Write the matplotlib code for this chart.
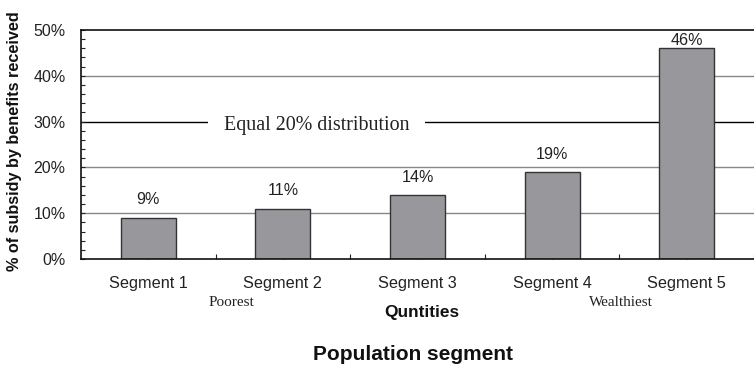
import numpy as np
import matplotlib.pyplot as plt
from matplotlib.ticker import MultipleLocator, FuncFormatter

segments = ['Segment 1', 'Segment 2', 'Segment 3', 'Segment 4', 'Segment 5']
shares = [9, 11, 14, 19, 46]
equal_line = 30
equal_text = 'Equal 20% distribution'

plt.rcParams['font.family'] = 'Liberation Sans'

fig = plt.figure(figsize=(7.54, 3.65), dpi=100)
ax = fig.add_axes([81 / 754, 1 - 259 / 365, 1 - 81 / 754, (259 - 30) / 365])

x = np.arange(len(segments))
ax.bar(x, shares, width=0.41, color='#98989c', edgecolor='#333333',
       linewidth=1.0, zorder=2)

# value labels, kept inside the frame for the tallest bar
for xi, v in zip(x, shares):
    ax.text(xi, min(v + 3.9, 47.6), f'{v}%', ha='center', va='center',
            fontsize=11.6, color='#222222', zorder=4)

ax.set_ylim(0, 50)
ax.set_xlim(-0.5, (754 - 81) / 136.3 - 0.5)

# grey gridlines, black reference line
for g in [10, 20, 40]:
    ax.axhline(g, color='#888888', linewidth=1.0, zorder=1)
ax.axhline(equal_line, color='black', linewidth=1.0, zorder=1)
ax.text(1.25, equal_line - 0.9, equal_text, ha='center', va='center',
        fontsize=14.4, family='Liberation Serif', color='#222222', zorder=3,
        bbox=dict(boxstyle='square,pad=0.8', facecolor='white', edgecolor='none'))

ax.yaxis.set_major_locator(MultipleLocator(10))
ax.yaxis.set_minor_locator(MultipleLocator(2))
ax.yaxis.set_major_formatter(FuncFormatter(lambda v, p: f'{v:.0f}%'))
ax.tick_params(axis='y', which='both', direction='in', length=3.2,
               width=0.8, labelsize=11.5, pad=11, colors='#222222')

ax.set_xticks(x)
ax.set_xticklabels(segments)
ax.set_xticks(np.arange(-0.5, 4.6, 1.0)[1:], minor=True)
ax.tick_params(axis='x', which='both', direction='in', length=3.5,
               width=0.8, labelsize=11.7, pad=12, colors='#222222')

for side in ['top', 'left', 'bottom']:
    ax.spines[side].set_linewidth(1.2)
    ax.spines[side].set_color('#111111')
ax.spines['right'].set_visible(False)
for t in ax.xaxis.get_ticklines() + ax.xaxis.get_minorticklines():
    t.set_zorder(5)

fig.text(15 / 754, 1 - 141 / 365, '% of subsidy by benefits received',
         rotation=90, ha='center', va='center', fontsize=11.7,
         fontweight='bold', color='#111111')
fig.text(231 / 754, 1 - 302 / 365, 'Poorest', ha='center', va='center',
         fontsize=11, family='Liberation Serif', color='#222222')
fig.text(621 / 754, 1 - 302 / 365, 'Wealthiest', ha='center', va='center',
         fontsize=11, family='Liberation Serif', color='#222222')
fig.text(422 / 754, 1 - 313 / 365, 'Quntities', ha='center', va='center',
         fontsize=12.4, fontweight='bold', color='#111111')
fig.text(413 / 754, 1 - 355 / 365, 'Population segment', ha='center',
         va='center', fontsize=15, fontweight='bold', color='#111111')

fig.savefig('out.png', dpi=100)
